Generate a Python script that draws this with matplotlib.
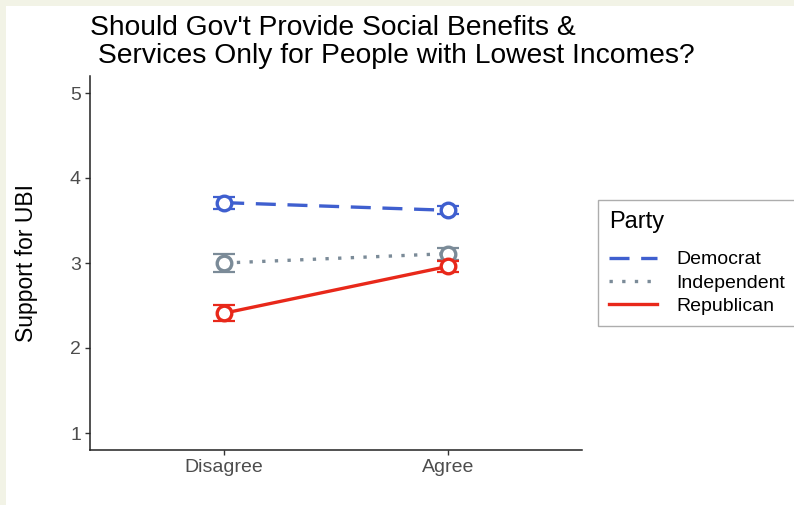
import numpy as np
import matplotlib.pyplot as plt
from matplotlib.patches import Rectangle

plt.rcParams['font.family'] = ['Liberation Sans', 'DejaVu Sans']

# data
categories = ["Disagree", "Agree"]
parties = ["Democrat", "Independent", "Republican"]
means = {
    "Democrat": [3.71, 3.62],
    "Independent": [3.00, 3.11],
    "Republican": [2.41, 2.96],
}
errs = {
    "Democrat": [0.07, 0.045],
    "Independent": [0.11, 0.07],
    "Republican": [0.095, 0.06],
}
colors = {"Democrat": "#3F5FCF", "Independent": "#7B8B98", "Republican": "#E8281A"}
styles = {"Democrat": (0, (6, 3.5)), "Independent": (0, (1, 2.8)), "Republican": "-"}

W, H = 794, 505
fig = plt.figure(figsize=(W / 100, H / 100), dpi=100)
fig.patch.set_facecolor("#F2F3E6")
fig.patches.append(Rectangle((6 / W, 0), 1, 1 - 6 / H, transform=fig.transFigure,
                             facecolor="white", edgecolor="none", zorder=-10))

ax = fig.add_axes([90 / W, 1 - 450 / H, (582 - 90) / W, (450 - 76) / H])
ax.set_facecolor("white")
x = np.arange(1, len(categories) + 1)

for p in parties:
    c = colors[p]
    ax.errorbar(x, means[p], yerr=errs[p], fmt="none", ecolor=c, elinewidth=1.6,
                capsize=8, capthick=1.6, zorder=2)
    ax.plot(x, means[p], color=c, lw=2.4, linestyle=styles[p], label=p, zorder=3,
            dash_capstyle="butt")
    ax.plot(x, means[p], "o", ms=10.5, mfc="white", mec=c, mew=2.4, zorder=4)

ax.set_xlim(0.4, 2.6)
ax.set_ylim(0.8, 5.2)
ax.set_xticks(x)
ax.set_xticklabels(categories)
ax.set_yticks([1, 2, 3, 4, 5])
for s in ["top", "right"]:
    ax.spines[s].set_visible(False)
for s in ["left", "bottom"]:
    ax.spines[s].set_color("#222222")
    ax.spines[s].set_linewidth(1.1)
ax.tick_params(axis="both", colors="#333333", labelcolor="#4D4D4D", labelsize=14,
               length=3.5, width=1.0, pad=3)
ax.set_ylabel("Support for UBI", fontsize=16.5, labelpad=23, color="black")

fig.text(90 / W, 1 - 15 / H,
         "Should Gov't Provide Social Benefits &\n Services Only for People with Lowest Incomes?",
         fontsize=20.3, va="top", ha="left", linespacing=1.12)

leg = ax.legend(loc="upper left", bbox_to_anchor=(598 / W, 1 - 200 / H),
                bbox_transform=fig.transFigure, borderaxespad=0, title="Party",
                fontsize=14, title_fontsize=17, alignment="left", frameon=True,
                fancybox=False, handlelength=2.5, labelspacing=0.3,
                borderpad=0.55, handletextpad=1.0)
leg._legend_box.sep = 13
leg.get_frame().set_edgecolor("#999999")
leg.get_frame().set_linewidth(1.0)

fig.savefig("out.png", dpi=100, facecolor=fig.get_facecolor())
